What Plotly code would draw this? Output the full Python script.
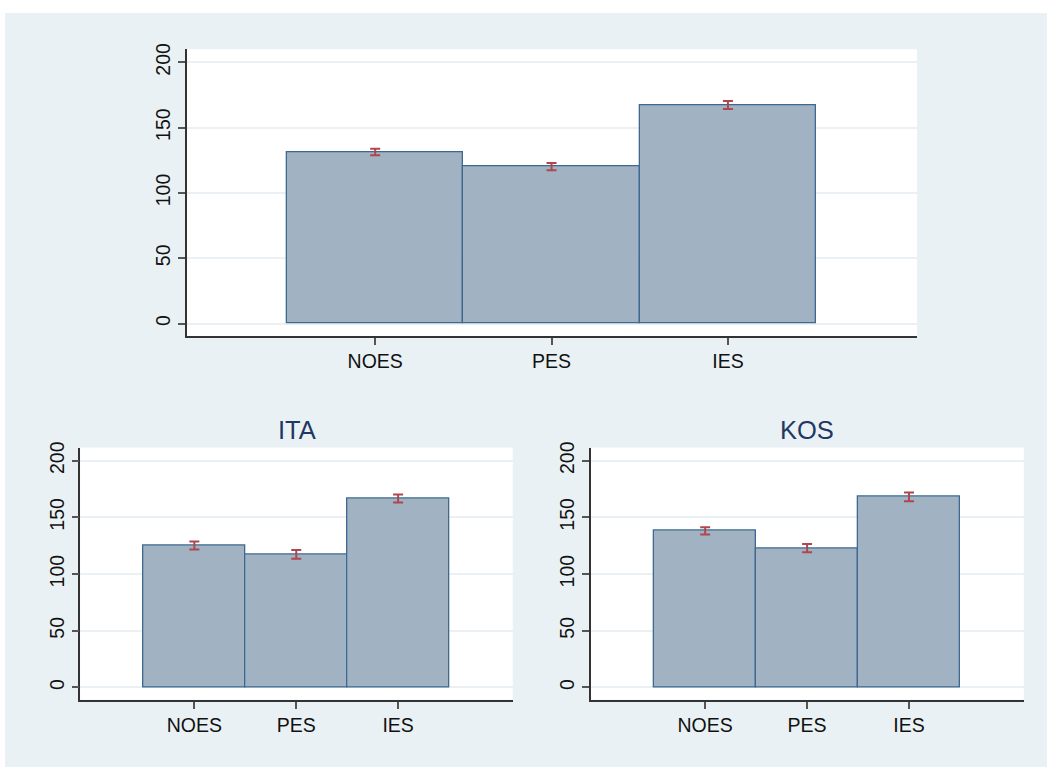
import plotly.graph_objects as go

# Category labels and bar positions
groups = ["NOES", "PES", "IES"]
positions = [1, 2, 3]

# Overall means and half-widths of confidence intervals
overall_mean = [131.4, 120.2, 167.3]
overall_ci = [2.5, 2.8, 3.0]

# Italy
ita_mean = [125.2, 117.3, 166.7]
ita_ci = [3.5, 3.8, 3.5]

# Kosovo
kos_mean = [138.1, 122.9, 168.1]
kos_ci = [3.2, 3.6, 3.8]

y_ticks = [0, 50, 100, 150, 200]

W, H = 1047, 769
BAR_FILL = "#a1b2c3"
BAR_LINE = "#3d6990"
ERR_COLOR = "#b0474c"
GRID = "#eaf0f3"
PANEL = "#eaf1f4"
FONT = "Liberation Sans, Arial, sans-serif"


def px_x(a, b):
    return [a / W, b / W]


def px_y(top, bottom):
    return [(H - bottom) / H, (H - top) / H]


fig = go.Figure()

panels = [
    ("x", "y", overall_mean, overall_ci, px_x(187, 917), px_y(43.7, 332.7), [-9.6, 209.9], [-0.067, 4.072], None),
    ("x2", "y2", ita_mean, ita_ci, px_x(80.3, 512.7), px_y(445, 699.3), [-11.0, 211.6], [-0.12, 4.125], "ITA"),
    ("x3", "y3", kos_mean, kos_ci, px_x(591, 1023.7), px_y(445, 699.3), [-11.0, 211.6], [-0.12, 4.125], "KOS"),
]

for i, (xa, ya, mean, ci, xdom, ydom, yrange, xrange, title) in enumerate(panels):
    fig.add_trace(go.Bar(
        x=positions, y=mean, width=1,
        xaxis=xa, yaxis=ya,
        marker=dict(color=BAR_FILL, line=dict(color=BAR_LINE, width=1.3)),
        error_y=dict(type="data", array=ci, visible=True, color=ERR_COLOR, thickness=2, width=5),
        showlegend=False, hoverinfo="skip",
    ))
    suffix = "" if i == 0 else str(i + 1)
    fig.layout["xaxis" + suffix] = dict(
        domain=xdom, range=xrange, anchor=ya,
        tickmode="array", tickvals=positions, ticktext=groups,
        showline=True, linecolor="#333333", linewidth=1.5,
        ticks="outside", ticklen=7, tickwidth=1.5, tickcolor="#555555",
        showgrid=False, zeroline=False,
        tickfont=dict(family=FONT, size=19.5, color="#111111"),
        fixedrange=True,
    )
    fig.layout["yaxis" + suffix] = dict(
        domain=ydom, range=yrange, anchor=xa,
        tickmode="array", tickvals=y_ticks,
        showline=True, linecolor="#333333", linewidth=1.5,
        ticks="outside", ticklen=7, tickwidth=1.5, tickcolor="#555555",
        showgrid=True, gridcolor=GRID, gridwidth=1.5, zeroline=False,
        tickangle=-90,
        tickfont=dict(family=FONT, size=19.5, color="#111111"),
        fixedrange=True,
    )
    if title:
        fig.add_annotation(
            text=title, xref="paper", yref="paper",
            x=(xdom[0] + xdom[1]) / 2, y=(H - 427) / H,
            xanchor="center", yanchor="middle", showarrow=False,
            font=dict(family=FONT, size=25.5, color="#1f3864"),
        )

# Light panel behind the whole graph, and white plot regions
fig.add_shape(type="rect", xref="paper", yref="paper",
              x0=5 / W, x1=1.0, y0=(H - 767) / H, y1=(H - 7) / H,
              fillcolor=PANEL, line=dict(width=0), layer="below")
for xa, ya, *_ in panels:
    fig.add_shape(type="rect", xref=xa + " domain", yref=ya + " domain",
                  x0=0, x1=1, y0=0, y1=1,
                  fillcolor="white", line=dict(width=0), layer="below")

fig.update_layout(
    width=W, height=H,
    margin=dict(l=0, r=0, t=0, b=0),
    paper_bgcolor="white", plot_bgcolor="rgba(0,0,0,0)",
    bargap=0,
    font=dict(family=FONT),
)

fig.write_html("out.html")
